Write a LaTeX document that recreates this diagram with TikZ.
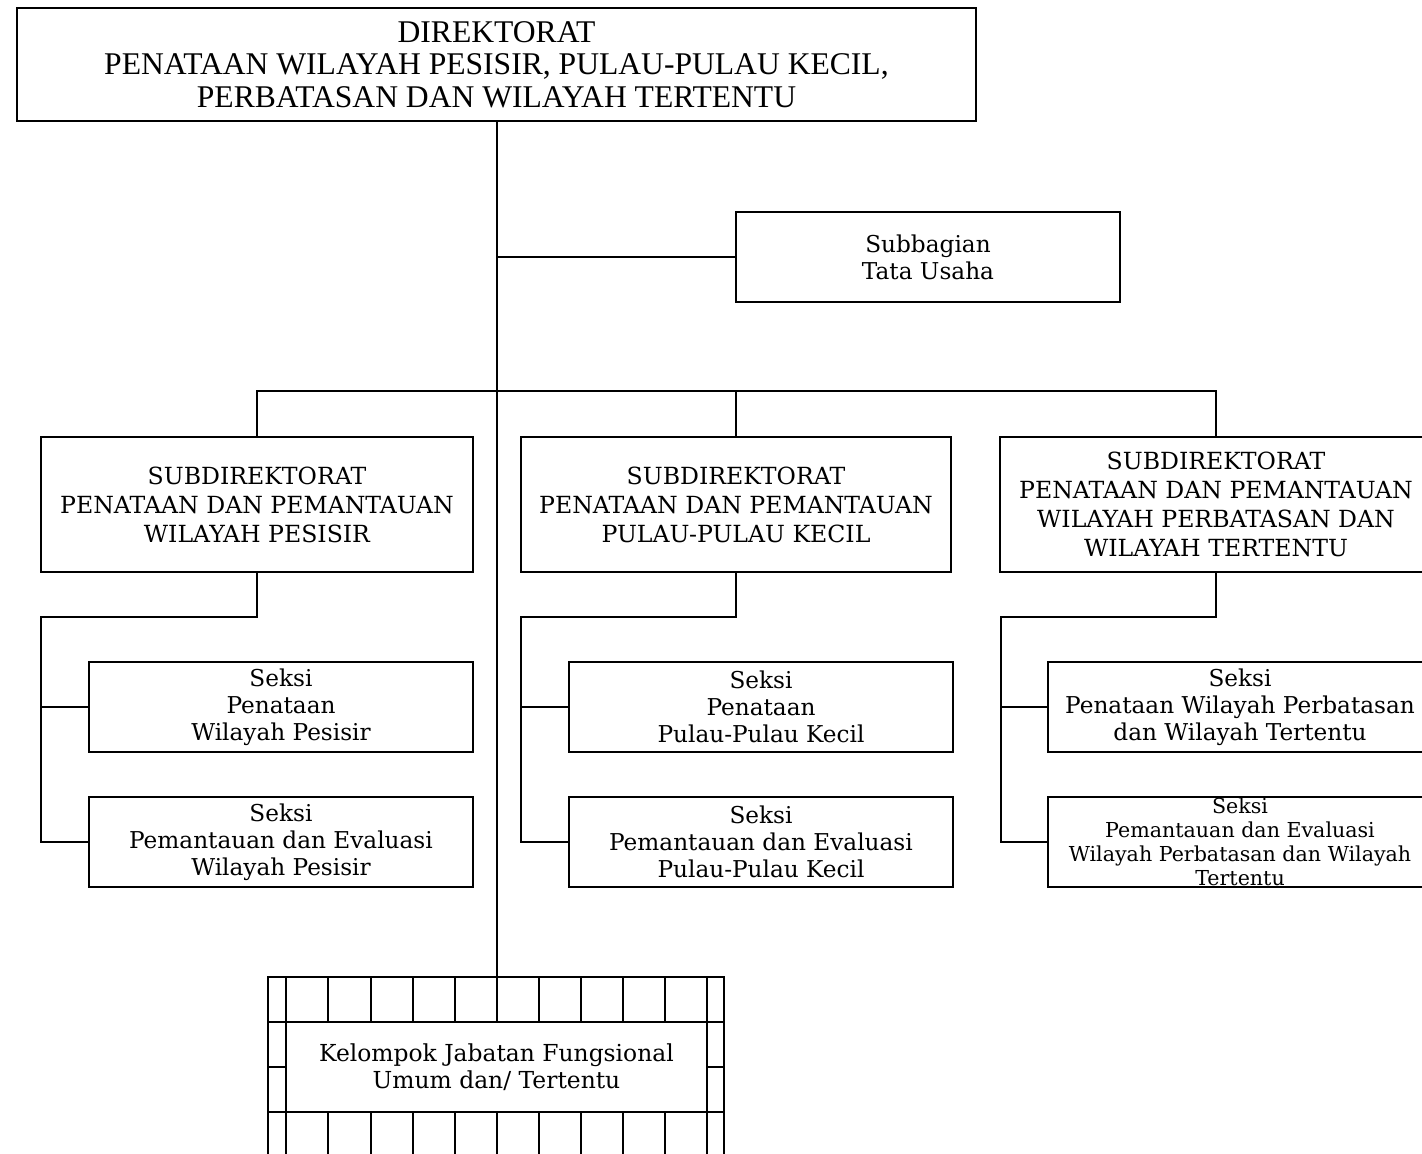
\documentclass[tikz,border=0pt]{standalone}
\usepackage{fontspec}
\setmainfont{DejaVu Serif}
\newfontfamily\titlefont{Liberation Serif}
\begin{document}
\begin{tikzpicture}[x=0.5pt,y=-0.5pt,line width=0.6pt,
  box/.style={draw,fill=white,align=center,inner sep=0pt},
  headbox/.style={box,font=\titlefont\fontsize{15.8}{16.3}\selectfont},
  subbox/.style={box,minimum width=216pt,minimum height=67.5pt,font=\fontsize{11.8}{14.5}\selectfont},
  seksibox/.style={box,minimum width=192pt,minimum height=45pt,font=\fontsize{11.6}{13.5}\selectfont},
  smallbox/.style={box,minimum width=192pt,minimum height=45pt,font=\fontsize{10.3}{12}\selectfont},
  conn/.style={draw}]
\useasboundingbox (0,0) rectangle (1422,1154);
\begin{scope}
\clip (0,0) rectangle (1422,1154);

% top level
\node[headbox,minimum width=479.5pt,minimum height=56.5pt] (dir) at (496.5,64.5)
  {DIREKTORAT\\PENATAAN WILAYAH PESISIR, PULAU-PULAU KECIL,\\PERBATASAN DAN WILAYAH TERTENTU};

% main spine down to the functional group
\coordinate (spineend) at (497,977);
\draw[conn] (dir.south -| spineend) -- (spineend);

% administrative sub-section
\node[seksibox] (tu) at (928,257) {Subbagian\\Tata Usaha};
\draw[conn] (497,257) -- (tu.west);

% sub-directorates
\node[subbox] (sd1) at (257,504.5) {SUBDIREKTORAT\\PENATAAN DAN PEMANTAUAN\\WILAYAH PESISIR};
\node[subbox,minimum width=215pt] (sd2) at (736,504.5) {SUBDIREKTORAT\\PENATAAN DAN PEMANTAUAN\\PULAU-PULAU KECIL};
\node[subbox] (sd3) at (1216,504.5) {SUBDIREKTORAT\\PENATAAN DAN PEMANTAUAN\\WILAYAH PERBATASAN DAN\\WILAYAH TERTENTU};

\coordinate (bus) at (497,391);
\draw[conn] (sd1.north) |- (bus) -| (sd3.north);
\draw[conn] (sd2.north) -- (sd2.north |- bus);

% sections
\node[seksibox] (s11) at (281,707) {Seksi\\Penataan\\Wilayah Pesisir};
\node[seksibox] (s12) at (281,842) {Seksi\\Pemantauan dan Evaluasi\\Wilayah Pesisir};
\node[seksibox] (s21) at (761,707) {Seksi\\Penataan\\Pulau-Pulau Kecil};
\node[seksibox] (s22) at (761,842) {Seksi\\Pemantauan dan Evaluasi\\Pulau-Pulau Kecil};
\node[seksibox] (s31) at (1240,707) {Seksi\\Penataan Wilayah Perbatasan\\dan Wilayah Tertentu};
\node[smallbox] (s32) at (1240,842) {Seksi\\Pemantauan dan Evaluasi\\Wilayah Perbatasan dan Wilayah\\Tertentu};

\foreach \sd/\a/\b/\xr in {sd1/s11/s12/41, sd2/s21/s22/521, sd3/s31/s32/1001}{
  \coordinate (rail) at (\xr,617);
  \draw[conn] (\sd.south) |- (rail) |- (\b.west);
  \draw[conn] (\a.west -| rail) -- (\a.west);
}

% functional group box with its tiled border
\node[box,minimum width=210.5pt,minimum height=45pt,font=\fontsize{11.7}{13.5}\selectfont] (kjf) at (496.5,1067)
  {Kelompok Jabatan Fungsional\\Umum dan/ Tertentu};
\draw (268,977) rectangle (724,1200);
\foreach \x in {328,371,413,455,497,539,581,623,665}{
  \draw (\x,977) -- (\x,1022);
  \draw (\x,1112) -- (\x,1200);
}
\draw (268,1022) -- (724,1022);
\draw (268,1112) -- (724,1112);
\draw (286,977) -- (286,1200);
\draw (707,977) -- (707,1200);
\draw (268,1067) -- (286,1067);
\draw (707,1067) -- (724,1067);
\end{scope}
\end{tikzpicture}
\end{document}
